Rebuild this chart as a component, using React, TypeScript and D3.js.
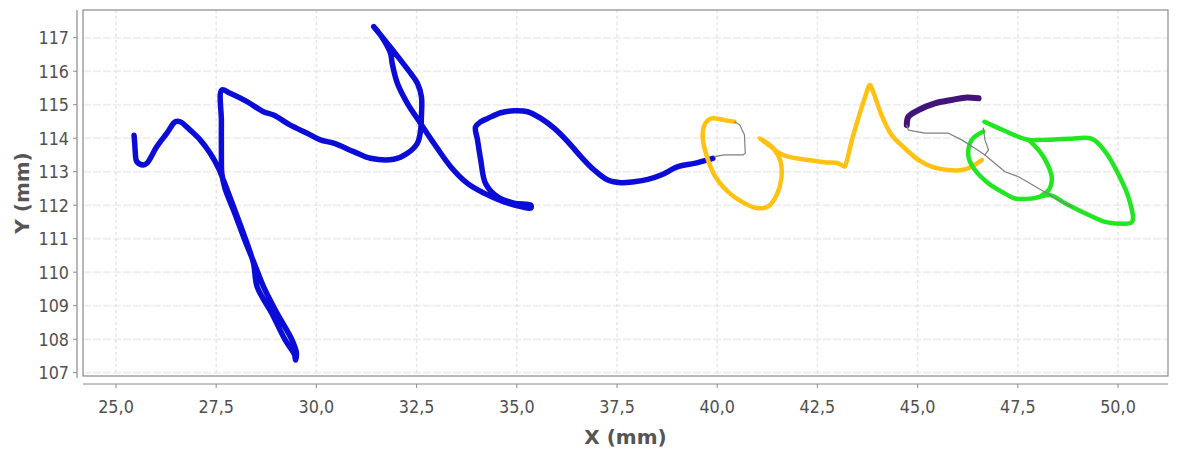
import React from "react";
import * as d3 from "d3";

type Pt = [number, number];

const xTicks = [25, 27.5, 30, 32.5, 35, 37.5, 40, 42.5, 45, 47.5, 50];
const yTicks = [107, 108, 109, 110, 111, 112, 113, 114, 115, 116, 117];

const blueStroke: Pt[] = [
  [25.45, 114.09], [25.47, 113.8], [25.48, 113.6], [25.52, 113.3], [25.68, 113.2], [25.77, 113.25],
  [26.02, 113.75], [26.27, 114.15], [26.48, 114.49], [26.6, 114.49], [26.85, 114.24], [27.1, 113.95],
  [27.35, 113.55], [27.56, 113.1], [27.68, 112.75], [27.93, 111.96], [28.18, 111.16], [28.43, 110.27],
  [28.52, 109.57], [28.89, 108.77], [29.22, 107.98], [29.45, 107.55], [29.48, 107.38], [29.5, 107.6],
  [29.39, 107.98], [29.02, 108.77], [28.68, 109.57], [28.47, 110.2], [28.2, 111.0], [27.95, 111.8],
  [27.72, 112.5], [27.64, 112.95], [27.63, 113.5], [27.63, 114.5], [27.64, 115.44], [27.85, 115.34],
  [28.27, 115.09], [28.68, 114.79], [28.93, 114.69], [29.35, 114.39], [29.77, 114.15], [30.1, 113.95],
  [30.43, 113.85], [30.93, 113.6], [31.35, 113.4], [31.93, 113.37], [32.27, 113.55], [32.52, 113.85],
  [32.6, 114.24], [32.62, 114.64], [32.62, 115.24], [32.52, 115.64], [32.35, 115.94], [32.1, 116.33],
  [31.77, 116.83], [31.43, 117.33], [31.6, 117.08], [31.85, 116.53], [31.89, 116.24], [32.02, 115.64],
  [32.27, 115.04], [32.6, 114.44], [32.93, 113.85], [33.35, 113.15], [33.77, 112.65], [34.18, 112.36],
  [34.68, 112.1], [35.1, 111.96], [35.35, 111.91], [35.35, 112.0], [34.93, 112.06], [34.52, 112.25],
  [34.22, 112.65], [34.1, 113.35], [34.02, 113.95], [33.97, 114.34], [34.1, 114.49], [34.27, 114.59],
  [34.6, 114.76], [34.93, 114.82], [35.27, 114.79], [35.6, 114.59], [35.93, 114.3], [36.27, 113.9],
  [36.6, 113.45], [36.93, 113.05], [37.27, 112.75], [37.6, 112.67], [37.93, 112.7], [38.27, 112.77],
  [38.6, 112.9], [39.02, 113.15], [39.43, 113.25], [39.89, 113.4],
];

const orangeStroke: Pt[] = [
  [40.43, 114.49], [40.18, 114.54], [39.85, 114.59], [39.68, 114.39], [39.64, 114.0], [39.73, 113.5],
  [39.93, 112.9], [40.27, 112.4], [40.68, 112.06], [41.02, 111.91], [41.27, 111.96], [41.48, 112.3],
  [41.6, 112.8], [41.58, 113.3], [41.4, 113.7], [41.06, 114.0], [41.3, 113.78], [41.56, 113.55],
  [41.77, 113.45], [42.27, 113.35], [42.68, 113.28], [43.02, 113.25], [43.18, 113.15], [43.23, 113.3],
  [43.35, 113.9], [43.52, 114.59], [43.68, 115.19], [43.81, 115.59], [43.89, 115.39], [44.1, 114.69],
  [44.35, 114.1], [44.68, 113.7], [45.02, 113.35], [45.35, 113.15], [45.77, 113.05], [46.1, 113.05],
  [46.35, 113.15], [46.6, 113.35],
];

const purpleStroke: Pt[] = [
  [46.52, 115.19], [46.18, 115.21], [45.85, 115.14], [45.43, 115.04], [45.02, 114.84], [44.77, 114.64],
  [44.73, 114.39],
];

const greenOuter: Pt[] = [
  [46.67, 114.49], [47.02, 114.3], [47.4, 114.1], [47.77, 113.95], [48.1, 113.95], [48.77, 113.98],
  [49.35, 113.98], [49.68, 113.6], [50.02, 112.9], [50.27, 112.2], [50.35, 111.5], [50.02, 111.45],
  [49.68, 111.5], [49.18, 111.76], [48.68, 112.06], [48.3, 112.3], [47.85, 112.2], [47.43, 112.2],
  [47.1, 112.4], [46.77, 112.65], [46.43, 113.05], [46.27, 113.45], [46.35, 113.95], [46.64, 114.2],
];

const greenInner: Pt[] = [
  [47.77, 113.95], [48.05, 113.6], [48.25, 113.2], [48.35, 112.8], [48.27, 112.45], [48.1, 112.3],
];

const grayMove1: Pt[] = [
  [39.93, 113.45], [40.18, 113.5], [40.64, 113.5], [40.7, 113.55], [40.68, 114.1], [40.56, 114.4],
  [40.43, 114.49],
];

const grayMove2: Pt[] = [
  [44.73, 114.39], [44.77, 114.24], [45.18, 114.15], [45.77, 114.15], [46.1, 113.95], [46.43, 113.7],
  [46.68, 113.5], [46.77, 113.65], [46.68, 113.95], [46.64, 114.3],
];

const grayMove3: Pt[] = [
  [46.68, 113.5], [47.18, 113.0], [47.52, 112.85], [48.02, 112.5], [48.52, 112.15], [48.85, 111.95],
];

const W = 1190;
const H = 450;
const plot = { left: 83, top: 10, right: 1168, bottom: 376 };

const x = d3.scaleLinear().domain([25, 50]).range([116, 1118]);
const y = d3.scaleLinear().domain([107, 117]).range([372.7, 37.7]);

const smoothLine = d3
  .line<Pt>()
  .x((d) => x(d[0]))
  .y((d) => y(d[1]))
  .curve(d3.curveCatmullRom.alpha(0.5));

const straightLine = d3
  .line<Pt>()
  .x((d) => x(d[0]))
  .y((d) => y(d[1]));

const fmt = (v: number) => v.toFixed(1).replace(".", ",");

const tickFont = "'DejaVu Sans', sans-serif";

export default function App() {
  const strokes: { d: Pt[]; color: string; w: number; smooth: boolean }[] = [
    { d: blueStroke, color: "#0c0cd8", w: 5.5, smooth: true },
    { d: orangeStroke, color: "#ffc212", w: 4.5, smooth: true },
    { d: purpleStroke, color: "#421479", w: 6, smooth: true },
    { d: greenOuter, color: "#22e622", w: 4.5, smooth: true },
    { d: greenInner, color: "#22e622", w: 4.5, smooth: true },
    { d: grayMove1, color: "#808080", w: 1.2, smooth: false },
    { d: grayMove2, color: "#808080", w: 1.2, smooth: false },
    { d: grayMove3, color: "#808080", w: 1.2, smooth: false },
  ];
  return (
    <svg
      width={W}
      height={H}
      style={{ position: "absolute", left: 0, top: 0, background: "#fff" }}
    >
      <rect x={0} y={0} width={W} height={H} fill="#fff" />
      {/* grid */}
      {yTicks.map((t) => (
        <line
          key={"gy" + t}
          x1={plot.left}
          x2={plot.right}
          y1={y(t)}
          y2={y(t)}
          stroke="#efefef"
          strokeWidth={2}
          strokeDasharray="8,2"
        />
      ))}
      {xTicks.map((t) => (
        <line
          key={"gx" + t}
          x1={x(t)}
          x2={x(t)}
          y1={plot.top}
          y2={plot.bottom}
          stroke="#e6e6e6"
          strokeWidth={1.5}
          strokeDasharray="3,3"
        />
      ))}
      {/* plot border */}
      <rect
        x={plot.left}
        y={plot.top}
        width={plot.right - plot.left}
        height={plot.bottom - plot.top}
        fill="none"
        stroke="#8a8a8a"
        strokeWidth={1.2}
      />
      {/* data */}
      <g clipPath="url(#clip)">
        {strokes.map((s, i) => (
          <path
            key={i}
            d={(s.smooth ? smoothLine(s.d) : straightLine(s.d)) || ""}
            fill="none"
            stroke={s.color}
            strokeWidth={s.w}
            strokeLinejoin="round"
            strokeLinecap="round"
          />
        ))}
      </g>
      <defs>
        <clipPath id="clip">
          <rect
            x={plot.left}
            y={plot.top}
            width={plot.right - plot.left}
            height={plot.bottom - plot.top}
          />
        </clipPath>
      </defs>
      {/* y axis */}
      <line x1={77} x2={77} y1={plot.top} y2={plot.bottom + 2} stroke="#8a8a8a" strokeWidth={1.2} />
      {yTicks.map((t) => (
        <g key={"yt" + t}>
          <line x1={73} x2={77} y1={y(t)} y2={y(t)} stroke="#8a8a8a" />
          <text
            transform={`translate(69,${y(t)}) scale(1,1.15)`}
            textAnchor="end"
            dominantBaseline="central"
            fontFamily={tickFont}
            fontSize={16}
            fill="#505050"
          >
            {t}
          </text>
        </g>
      ))}
      {/* x axis */}
      <line x1={plot.left} x2={plot.right} y1={384} y2={384} stroke="#8a8a8a" strokeWidth={1.2} />
      {xTicks.map((t) => (
        <g key={"xt" + t}>
          <line x1={x(t)} x2={x(t)} y1={384} y2={388} stroke="#8a8a8a" />
          <text
            transform={`translate(${x(t)},407) scale(1,1.15)`}
            textAnchor="middle"
            dominantBaseline="central"
            fontFamily={tickFont}
            fontSize={16}
            fill="#505050"
          >
            {fmt(t)}
          </text>
        </g>
      ))}
      <text
        x={(plot.left + plot.right) / 2}
        y={437}
        textAnchor="middle"
        dominantBaseline="central"
        fontFamily={tickFont}
        fontWeight="bold"
        fontSize={20}
        fill="#555"
      >
        X (mm)
      </text>
      <text
        transform={`translate(22,${(plot.top + plot.bottom) / 2}) rotate(-90)`}
        textAnchor="middle"
        dominantBaseline="central"
        fontFamily={tickFont}
        fontWeight="bold"
        fontSize={20}
        fill="#555"
      >
        Y (mm)
      </text>
    </svg>
  );
}
